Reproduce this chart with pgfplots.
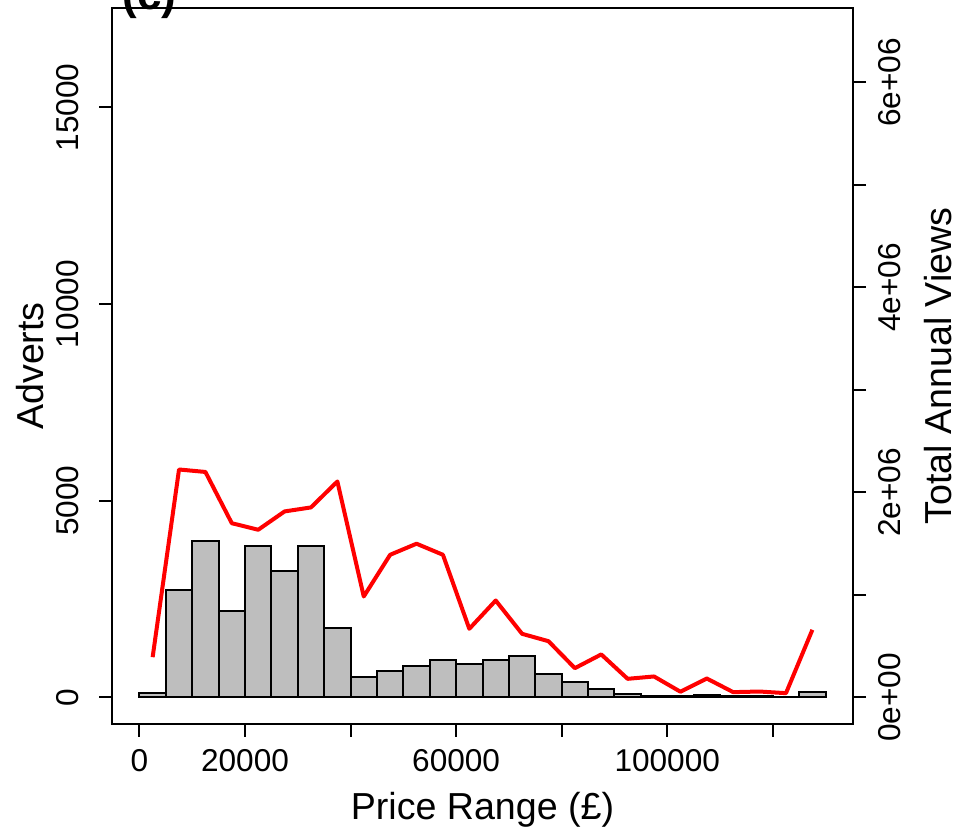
\documentclass[border=0pt]{standalone}
\usepackage{pgfplots}
\pgfplotsset{compat=1.18}
\usepackage{fontspec}
\setmainfont{Liberation Sans}
\definecolor{barg}{HTML}{BEBEBE}
\begin{document}
\begin{tikzpicture}
\pgfplotsset{every axis/.append style={
  scale only axis, width=370.5pt, height=358pt,
  font=\fontsize{15.8}{19}\selectfont,
  tick align=outside, major tick length=6.5pt,
  every tick/.style={black, line width=1pt},
  axis line style={line width=1pt,-},
  scaled ticks=false,
  /pgf/number format/assume math mode=true,
  xmin=-5200, xmax=135200,
}}
\begin{axis}[name=ax,
  ymin=-674, ymax=17526,
  xtick={0,20000,...,120000},
  xticklabels={0,20000,,60000,,100000,},
  ytick={0,5000,10000,15000},
  yticklabels={0,5000,10000,15000},
  xtick pos=bottom, ytick pos=left,
  yticklabel style={rotate=90, anchor=south},
  xticklabel style={anchor=north},
  xticklabel shift=2.5pt, yticklabel shift=6.5pt,
  xlabel={Price Range (£)}, ylabel={Adverts},
  every axis x label/.style={at={(axis description cs:0.5,-0.134)}, anchor=base, font=\fontsize{18.8}{22}\selectfont},
  every axis y label/.style={at={(axis description cs:-0.1107,0.5)}, anchor=center, rotate=90, font=\fontsize{18.8}{22}\selectfont},
]
\addplot[ybar interval, fill=barg, draw=black, line width=1pt] coordinates {
(0,120) (5000,2720) (10000,3966) (15000,2204) (20000,3838) (25000,3221)
(30000,3838) (35000,1762) (40000,508) (45000,678) (50000,797) (55000,949)
(60000,847) (65000,955) (70000,1059) (75000,602) (80000,390) (85000,212)
(90000,93) (95000,50) (100000,30) (105000,60) (110000,30) (115000,25)
(120000,20) (125000,144) (130000,144)};
\end{axis}
\begin{axis}[
  ymin=-258700, ymax=6726000,
  axis x line=none, axis y line*=right,
  ytick={0,1000000,...,6000000},
  yticklabels={0e+00,,2e+06,,4e+06,,6e+06},
  yticklabel style={rotate=90, anchor=north},
  yticklabel shift=2.5pt,
  ylabel={Total Annual Views},
  every axis y label/.style={at={(axis description cs:1.1147,0.5)}, anchor=center, rotate=90, font=\fontsize{18.8}{22}\selectfont},
]
\addplot[red, line width=2pt, line join=round] coordinates {
(2500,393000) (7500,2224000) (12500,2200000) (17500,1700000) (22500,1636000)
(27500,1815000) (32500,1854000) (37500,2107000) (42500,985000) (47500,1392000)
(52500,1500000) (57500,1392000) (62500,670000) (67500,946000) (72500,621000)
(77500,549000) (82500,286000) (87500,420000) (92500,182000) (97500,205000)
(102500,56000) (107500,185000) (112500,52000) (117500,58000) (122500,42000)
(127500,660000)};
\end{axis}
\node[anchor=base west, font=\fontsize{22}{26}\selectfont\bfseries, inner sep=0pt] at ([xshift=5pt, yshift=-1pt]ax.north west) {(c)};
\pgfresetboundingbox
\path[use as bounding box] ([xshift=-56pt,yshift=-54pt]ax.south west) rectangle ([xshift=424.5pt,yshift=4pt]ax.north west);
\end{tikzpicture}
\end{document}
